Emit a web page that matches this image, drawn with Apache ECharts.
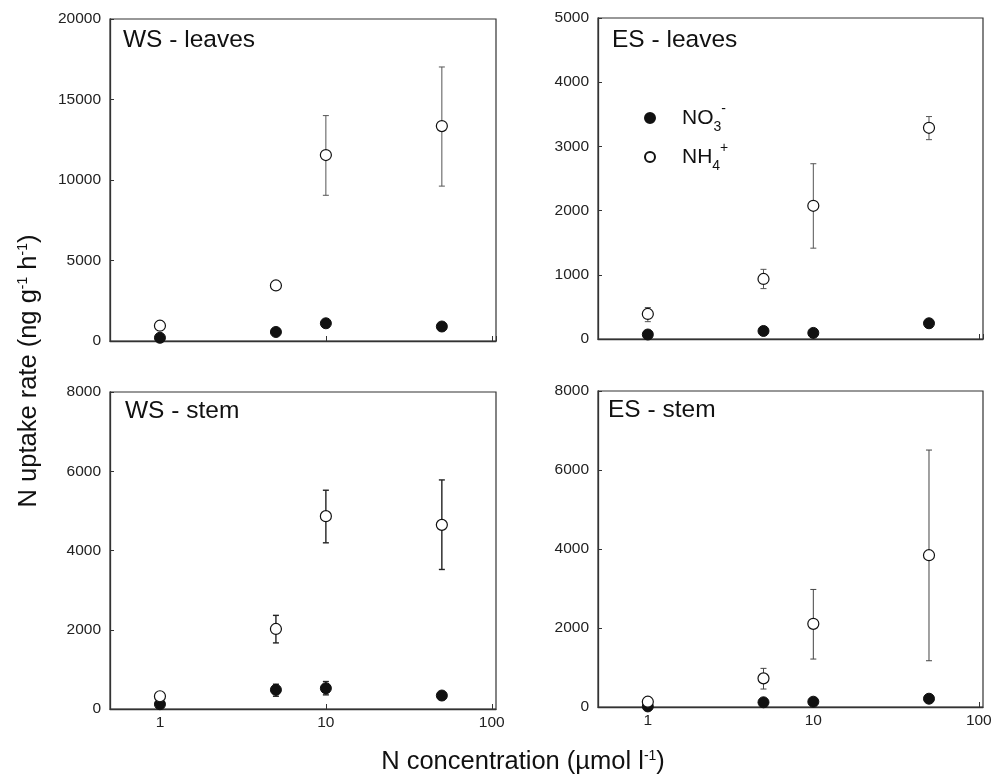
<!DOCTYPE html>
<html>
<head>
<meta charset="utf-8">
<script src="https://cdn.jsdelivr.net/npm/echarts@6/dist/echarts.min.js"></script>
<style>
  html, body { margin: 0; padding: 0; background: #fff; }
  #chart { width: 997px; height: 774px; }
</style>
</head>
<body>
<div id="chart"></div>
<script>
// N concentration (µmol l-1)
const conc = [1, 5, 10, 50];

// WS - leaves
const wsLeavesNH4 = [950, 3450, 11550, 13350];
const wsLeavesNH4Lo = [null, null, 9050, 9620];
const wsLeavesNH4Hi = [null, null, 14000, 17020];
const wsLeavesNO3 = [200, 560, 1100, 900];

// ES - leaves
const esLeavesNH4 = [390, 935, 2075, 3290];
const esLeavesNH4Lo = [270, 785, 1415, 3105];
const esLeavesNH4Hi = [490, 1085, 2730, 3465];
const esLeavesNO3 = [70, 125, 95, 245];

// WS - stem
const wsStemNH4 = [322, 2020, 4866, 4647];
const wsStemNH4Lo = [null, 1668, 4194, 3521];
const wsStemNH4Hi = [null, 2363, 5521, 5781];
const wsStemNO3 = [121, 484, 524, 340];
const wsStemNO3Lo = [null, 322, 357, null];
const wsStemNO3Hi = [null, 625, 693, null];

// ES - stem
const esStemNH4 = [134, 725, 2106, 3843];
const esStemNH4Lo = [null, 455, 1214, 1171];
const esStemNH4Hi = [null, 978, 2976, 6505];
const esStemNO3 = [15, 119, 134, 210];

const yMax = [20000, 5000, 8000, 8000];
const yStep = [5000, 1000, 2000, 2000];
const panelTitles = ['WS - leaves', 'ES - leaves', 'WS - stem', 'ES - stem'];

const axisColor = '#333';
const font = 'Liberation Sans, Arial, sans-serif';

let chart = echarts.init(document.getElementById('chart'));

function pairs(ys) {
    return conc.map((c, i) => [c, ys[i]]);
}

function errSeries(idx, lo, hi, color, width) {
    const data = [];
    conc.forEach((c, i) => {
        if (lo[i] != null) data.push([c, lo[i], hi[i]]);
    });
    return {
        type: 'custom',
        xAxisIndex: idx,
        yAxisIndex: idx,
        silent: true,
        z: 1,
        encode: { x: 0, y: [1, 2] },
        data: data,
        renderItem: function (params, api) {
            const a = api.coord([api.value(0), api.value(1)]);
            const b = api.coord([api.value(0), api.value(2)]);
            const w = 3;
            const st = { stroke: color, lineWidth: width };
            return {
                type: 'group',
                children: [
                    { type: 'line', shape: { x1: a[0], y1: a[1], x2: b[0], y2: b[1] }, style: st },
                    { type: 'line', shape: { x1: a[0] - w, y1: a[1], x2: a[0] + w, y2: a[1] }, style: st },
                    { type: 'line', shape: { x1: b[0] - w, y1: b[1], x2: b[0] + w, y2: b[1] }, style: st }
                ]
            };
        }
    };
}

function no3Series(idx, ys) {
    return {
        name: 'NO3', type: 'scatter', xAxisIndex: idx, yAxisIndex: idx,
        symbol: 'circle', symbolSize: 11, z: 3, clip: false,
        itemStyle: { color: '#111', borderColor: '#111', borderWidth: 1, opacity: 1 },
        data: pairs(ys)
    };
}

function nh4Series(idx, ys) {
    return {
        name: 'NH4', type: 'scatter', xAxisIndex: idx, yAxisIndex: idx,
        symbol: 'circle', symbolSize: 11, z: 4, clip: false,
        itemStyle: { color: '#fff', borderColor: '#111', borderWidth: 1.2, opacity: 1 },
        data: pairs(ys)
    };
}

const grids = [
    { left: 110, top: 19, width: 386, height: 322 },
    { left: 598, top: 18, width: 385, height: 321 },
    { left: 110, top: 392, width: 386, height: 317 },
    { left: 598, top: 391, width: 385, height: 316 }
].map(g => Object.assign(g, { show: true, borderColor: axisColor, borderWidth: 1.2, backgroundColor: 'transparent' }));

const xAxes = [0, 1, 2, 3].map(i => ({
    gridIndex: i,
    type: 'log',
    logBase: 10,
    min: 0.5,
    max: 106,
    axisLine: { show: true, lineStyle: { color: axisColor, width: 1.3 } },
    axisTick: { show: true, inside: true, length: 5, lineStyle: { color: axisColor } },
    minorTick: { show: false },
    splitLine: { show: false },
    axisLabel: {
        show: i >= 2, showMinLabel: false, showMaxLabel: false,
        margin: 6, fontSize: 15.5, color: '#222', fontFamily: font
    }
}));

const yAxes = [0, 1, 2, 3].map(i => ({
    gridIndex: i,
    type: 'value',
    min: 0,
    max: yMax[i],
    interval: yStep[i],
    axisLine: { show: true, lineStyle: { color: axisColor, width: 1.3 } },
    axisTick: { show: true, inside: true, length: 4, lineStyle: { color: axisColor } },
    splitLine: { show: false },
    axisLabel: {
        margin: 9, fontSize: 15.5, color: '#222', fontFamily: font,
        formatter: v => String(v)
    }
}));

const titlePos = [[123, 28], [612, 28], [125, 399], [608, 398]];

chart.setOption({
    backgroundColor: '#fff',
    animation: false,
    title: panelTitles.map((t, i) => ({
        text: t, left: titlePos[i][0], top: titlePos[i][1], padding: 0,
        textStyle: { fontSize: 24.5, fontWeight: 'normal', color: '#111', fontFamily: font }
    })),
    legend: {
        data: ['NO3', 'NH4'],
        orient: 'vertical',
        left: 639,
        top: 97,
        itemWidth: 10,
        itemHeight: 10,
        itemGap: 7,
        icon: 'circle',
        formatter: function (name) {
            return name === 'NO3' ? '{m|NO}{b|3}{p|-}' : '{m|NH}{b|4}{p|+}';
        },
        textStyle: {
            color: '#111',
            fontFamily: font,
            padding: [0, 0, 0, 22],
            rich: {
                m: { fontSize: 21, fontFamily: font, color: '#111', verticalAlign: 'bottom', padding: [0, 0, 5, 0] },
                b: { fontSize: 14, fontFamily: font, color: '#111', verticalAlign: 'bottom' },
                p: { fontSize: 14, fontFamily: font, color: '#111', verticalAlign: 'bottom', padding: [0, 0, 18, 0] }
            }
        }
    },
    grid: grids,
    xAxis: xAxes,
    yAxis: yAxes,
    graphic: [
        {
            type: 'text', x: 29, y: 371, rotation: Math.PI / 2,
            style: {
                text: '{a|N uptake rate (ng g}{s|-1}{a| h}{s|-1}{a|)}',
                align: 'center', verticalAlign: 'middle', fill: '#111',
                rich: {
                    a: { fontSize: 25.5, fontFamily: font, fill: '#111', verticalAlign: 'bottom' },
                    s: { fontSize: 14, fontFamily: font, fill: '#111', verticalAlign: 'bottom', padding: [0, 0, 12, 0] }
                }
            }
        },
        {
            type: 'text', x: 523, y: 762,
            style: {
                text: '{a|N concentration (µmol l}{s|-1}{a|)}',
                align: 'center', verticalAlign: 'middle', fill: '#111',
                rich: {
                    a: { fontSize: 25.5, fontFamily: font, fill: '#111', verticalAlign: 'bottom' },
                    s: { fontSize: 14, fontFamily: font, fill: '#111', verticalAlign: 'bottom', padding: [0, 0, 12, 0] }
                }
            }
        }
    ],
    series: [
        errSeries(0, wsLeavesNH4Lo, wsLeavesNH4Hi, '#555', 1),
        no3Series(0, wsLeavesNO3),
        nh4Series(0, wsLeavesNH4),

        errSeries(1, esLeavesNH4Lo, esLeavesNH4Hi, '#555', 1),
        no3Series(1, esLeavesNO3),
        nh4Series(1, esLeavesNH4),

        errSeries(2, wsStemNH4Lo, wsStemNH4Hi, '#222', 1.4),
        errSeries(2, wsStemNO3Lo, wsStemNO3Hi, '#222', 1.4),
        no3Series(2, wsStemNO3),
        nh4Series(2, wsStemNH4),

        errSeries(3, esStemNH4Lo, esStemNH4Hi, '#444', 1),
        no3Series(3, esStemNO3),
        nh4Series(3, esStemNH4)
    ]
});
</script>
</body>
</html>
